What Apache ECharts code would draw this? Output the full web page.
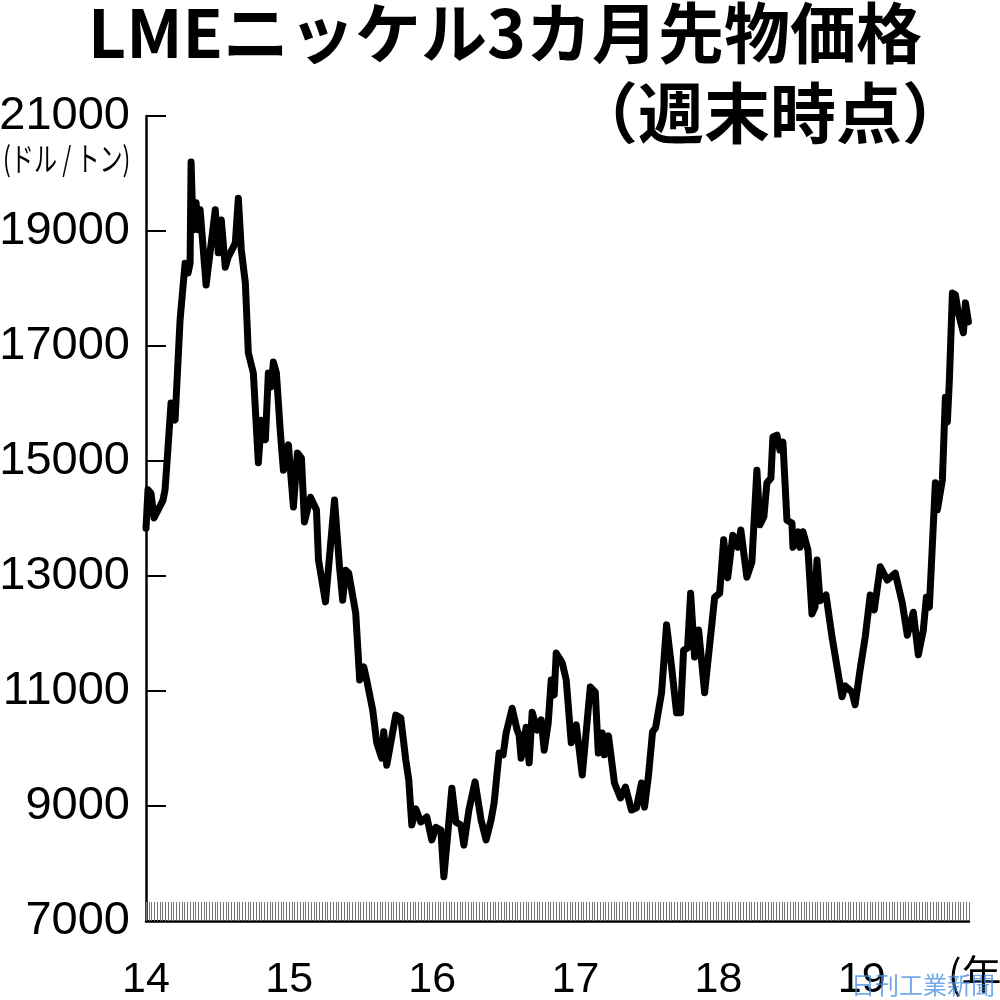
<!DOCTYPE html>
<html>
<head>
<meta charset="utf-8">
<script src="https://cdn.jsdelivr.net/npm/echarts@6/dist/echarts.min.js"></script>
<style>
  html, body { margin: 0; background: #fff; }
  #chart { width: 1000px; height: 1000px; }
</style>
</head>
<body>
<div id="chart"></div>
<script>
// 週末時点（年の小数で表した時点）
const weekYear = [
  2014.000, 2014.014, 2014.035, 2014.056, 2014.091, 2014.119, 2014.133, 2014.154, 2014.175, 2014.203,
  2014.210, 2014.238, 2014.273, 2014.294, 2014.308, 2014.315, 2014.329, 2014.350, 2014.364, 2014.378,
  2014.420, 2014.484, 2014.505, 2014.526, 2014.554, 2014.575, 2014.624, 2014.645, 2014.666, 2014.694,
  2014.715, 2014.750, 2014.785, 2014.806, 2014.834, 2014.855, 2014.876, 2014.890, 2014.911, 2014.939,
  2014.960, 2014.995, 2015.030, 2015.058, 2015.086, 2015.107, 2015.149, 2015.191, 2015.205, 2015.254,
  2015.317, 2015.352, 2015.374, 2015.395, 2015.416, 2015.465, 2015.493, 2015.521, 2015.542, 2015.584,
  2015.612, 2015.647, 2015.661, 2015.682, 2015.745, 2015.780, 2015.815, 2015.836, 2015.857, 2015.885,
  2015.920, 2015.962, 2015.997, 2016.025, 2016.060, 2016.081, 2016.109, 2016.137, 2016.165, 2016.200,
  2016.221, 2016.256, 2016.299, 2016.341, 2016.376, 2016.411, 2016.432, 2016.467, 2016.495, 2016.516,
  2016.558, 2016.593, 2016.607, 2016.621, 2016.656, 2016.677, 2016.698, 2016.733, 2016.761, 2016.782,
  2016.810, 2016.831, 2016.852, 2016.866, 2016.908, 2016.936, 2016.971, 2017.006, 2017.048, 2017.104,
  2017.139, 2017.160, 2017.188, 2017.203, 2017.231, 2017.273, 2017.315, 2017.350, 2017.392, 2017.427,
  2017.462, 2017.483, 2017.511, 2017.539, 2017.560, 2017.602, 2017.637, 2017.672, 2017.707, 2017.735,
  2017.756, 2017.784, 2017.805, 2017.833, 2017.861, 2017.903, 2017.973, 2018.008, 2018.036, 2018.064,
  2018.100, 2018.135, 2018.156, 2018.198, 2018.233, 2018.268, 2018.289, 2018.317, 2018.338, 2018.366,
  2018.380, 2018.408, 2018.429, 2018.450, 2018.478, 2018.513, 2018.520, 2018.555, 2018.569, 2018.590,
  2018.625, 2018.653, 2018.674, 2018.688, 2018.709, 2018.751, 2018.793, 2018.828, 2018.863, 2018.884,
  2018.933, 2018.954, 2018.989, 2019.025, 2019.060, 2019.088, 2019.130, 2019.179, 2019.235, 2019.284,
  2019.319, 2019.361, 2019.396, 2019.431, 2019.452, 2019.473, 2019.515, 2019.529, 2019.564, 2019.585,
  2019.599, 2019.613, 2019.634, 2019.655, 2019.676, 2019.711, 2019.725, 2019.746
]
// ドル/トン
const price = [
  13830, 14500, 14440, 14010, 14180, 14320, 14500, 15240, 16010, 15710,
  16060, 17450, 18440, 18270, 18440, 20200, 19020, 19490, 19020, 19370,
  18060, 19370, 18620, 19190, 18370, 18550, 18790, 19570, 18670, 18100,
  16880, 16530, 14970, 15710, 15370, 16530, 16290, 16720, 16530, 15490,
  14840, 15280, 14200, 15140, 15050, 13940, 14370, 14150, 13280, 12550,
  14320, 13160, 12580, 13100, 13050, 12360, 11190, 11420, 11190, 10670,
  10100, 9830, 10290, 9710, 10580, 10530, 9800, 9450, 8670, 8950,
  8720, 8810, 8410, 8630, 8580, 7770, 8530, 9310, 8720, 8670,
  8320, 8930, 9420, 8760, 8410, 8760, 9050, 9920, 9890, 10270,
  10700, 10320, 10230, 9830, 10370, 9750, 10630, 10320, 10500, 9970,
  10440, 11190, 10930, 11660, 11490, 11190, 10100, 10410, 9540, 11070,
  10980, 9920, 10270, 9890, 10220, 9400, 9140, 9330, 8930, 8970,
  9400, 8980, 9540, 10290, 10360, 10970, 12150, 11420, 10620, 10620,
  11710, 11750, 12700, 11590, 12060, 10970, 12630, 12700, 13630, 12970,
  13710, 13500, 13800, 12980, 13240, 14840, 13890, 14030, 14620, 14700,
  15420, 15450, 15190, 15330, 13970, 13920, 13500, 13770, 13500, 13770,
  13450, 12340, 12460, 13280, 12570, 12670, 11940, 11420, 10900, 11090,
  10980, 10760, 11370, 11940, 12670, 12410, 13160, 12930, 13050, 12530,
  11970, 12370, 11630, 12060, 12630, 12460, 14620, 14150, 14670, 16110,
  15680, 16410, 17920, 17890, 17570, 17230, 17750, 17420
]
const yearLabels = ['14', '15', '16', '17', '18', '19']
const yMin = 7000
const yMax = 21000

const numFont = "'Liberation Sans', Arial, sans-serif"
const jpFont = "'Noto Sans CJK JP', sans-serif"

const chart = echarts.init(document.getElementById('chart'))

const option = {
  animation: false,
  backgroundColor: '#fff',
  grid: { left: 146, right: 31, top: 116, bottom: 79, containLabel: false, outerBoundsMode: 'none' },
  xAxis: {
    type: 'value',
    min: 2014,
    max: 2019.75,
    interval: 0.25,
    splitLine: { show: false },
    axisLine: { show: true, lineStyle: { color: '#000', width: 2.5 } },
    axisTick: { show: true, inside: true, length: 19, lineStyle: { color: '#777', width: 1 } },
    minorTick: { show: true, splitNumber: 13, length: 19, lineStyle: { color: '#777', width: 1 } },
    axisLabel: {
      margin: 38,
      color: '#000',
      fontSize: 43,
      fontFamily: numFont,
      formatter: function (v) {
        const i = Math.round(v - 2014)
        return Math.abs(v - 2014 - i) < 1e-6 ? (yearLabels[i] || '') : ''
      }
    }
  },
  yAxis: {
    type: 'value',
    min: yMin,
    max: yMax,
    interval: 2000,
    splitLine: { show: false },
    axisLine: { show: true, lineStyle: { color: '#000', width: 2.5 } },
    axisTick: { show: true, inside: true, length: 20, lineStyle: { color: '#000', width: 2 } },
    axisLabel: {
      margin: 16,
      color: '#000',
      fontSize: 47,
      fontFamily: numFont,
      formatter: function (v) { return String(v) }
    }
  },
  graphic: [
    {
      type: 'text',
      x: 505, y: 0,
      style: {
        text: 'LMEニッケル3カ月先物価格',
        fill: '#000',
        font: 'bold 66px ' + jpFont,
        textAlign: 'center',
        textVerticalAlign: 'top'
      }
    },
    {
      type: 'text',
      x: 968, y: 80,
      style: {
        text: '（週末時点）',
        fill: '#000',
        font: 'bold 66px ' + jpFont,
        textAlign: 'right',
        textVerticalAlign: 'top'
      }
    },
    {
      type: 'text',
      x: 3, y: 142,
      scaleX: 0.7,
      style: {
        text: '(ドル / トン)',
        fill: '#000',
        font: '33px ' + jpFont,
        textAlign: 'left',
        textVerticalAlign: 'top'
      }
    },
    {
      type: 'text',
      x: 948, y: 954,
      style: {
        text: '(年)',
        fill: '#000',
        font: '40px ' + jpFont,
        textAlign: 'left',
        textVerticalAlign: 'top'
      }
    },
    {
      type: 'text',
      x: 851, y: 973,
      z: 100,
      style: {
        text: '日刊工業新聞',
        fill: 'rgba(70, 140, 225, 0.75)',
        font: '24px ' + jpFont,
        textAlign: 'left',
        textVerticalAlign: 'top'
      }
    }
  ],
  series: [
    {
      type: 'line',
      data: weekYear.map((t, i) => [t, price[i]]),
      showSymbol: false,
      symbol: 'none',
      lineStyle: { color: '#000', width: 7, join: 'round', cap: 'round' },
      emphasis: { disabled: true }
    }
  ]
}

chart.setOption(option)
</script>
</body>
</html>
